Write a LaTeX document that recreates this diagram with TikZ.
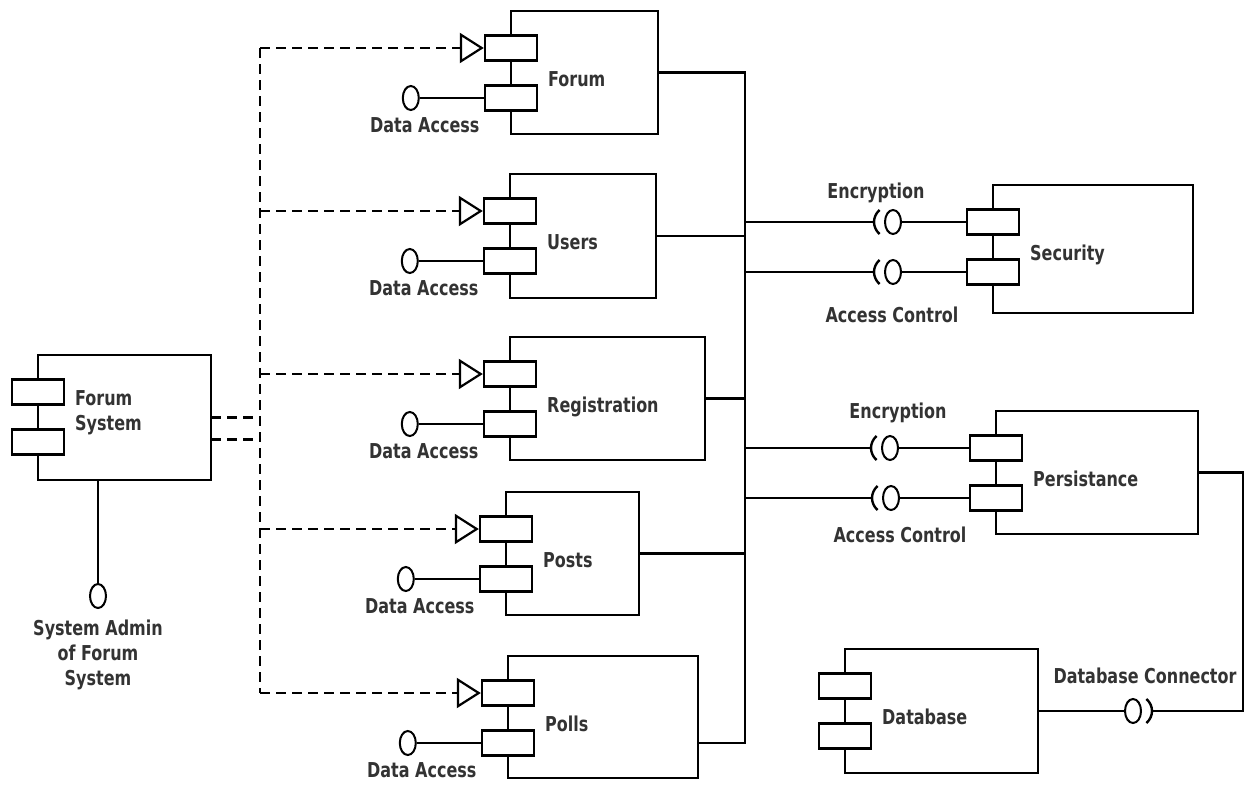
\documentclass[tikz,border=0pt]{standalone}
\usepackage{fontspec}
\setmainfont{DejaVu Sans}
\newfontfamily\lblfont{DejaVu Sans}[FakeStretch=0.78]
\usetikzlibrary{shapes.geometric,positioning,arrows.meta}
\tikzset{comp/.style={draw,line width=2.4pt,rectangle,anchor=north west,inner sep=0pt,outer sep=0pt},
port/.style={draw,line width=2.4pt,fill=white,rectangle,minimum width=52pt,minimum height=25pt,inner sep=0pt},
ball/.style={draw,line width=2pt,ellipse,fill=white,minimum width=16pt,minimum height=24pt,inner sep=0pt},
lbl/.style={font=\lblfont\bfseries\fontsize{20.5}{25}\selectfont,text=black!80,inner sep=0pt},
link/.style={line width=2.4pt},
dashline/.style={line width=2.4pt,dash pattern=on 10pt off 6pt},
dep/.style={dashline,-{Triangle[open,length=24pt,width=30pt,line width=2.2pt]}}}
\newcommand{\component}[7][75]{% [baseline] name, x1, y1, x2, y2, text
\node[comp,minimum width={(#5-#3)*1pt},minimum height={(#6-#4)*1pt}] (#2) at (#3,#4) {};
\node[port] (#2-a) at ([yshift=-37pt]#2.north west) {};
\node[port] (#2-b) at ([yshift=-87pt]#2.north west) {};
\node[lbl,anchor=base west,align=left] (#2-txt) at ([xshift=37pt,yshift=-#1pt]#2.north west) {#7};
}
\newcommand{\dataaccess}[1]{%
\node[ball,left=64pt of #1-b] (#1-da) {};
\draw[link] (#1-da) -- (#1-b);
\node[lbl,below=6pt of #1-da,xshift=14pt] (#1-dal) {Data Access};
}
\newcommand{\socket}[3]{% name, position, facing
\node[ball] (#1) at (#2) {};
\coordinate (#1-s) at ([shift={(#3:19pt and 17pt)}]#1.center);
\draw[link] ([shift={(#3-45:19pt and 17pt)}]#1.center) arc[start angle=#3-45,end angle=#3+45,x radius=19pt,y radius=17pt];
}

\begin{document}
\begin{tikzpicture}[x=1pt,y=-1pt]
    \useasboundingbox (0,0) rectangle (1247,787);
    % components
    \component{sys}{38}{355}{211}{480}{Forum\\System}
    \component{forum}{511}{11}{658}{134}{Forum}
    \component{users}{510}{174}{656}{298}{Users}
    \component{reg}{510}{337}{705}{460}{Registration}
    \component{posts}{506}{492}{639}{615}{Posts}
    \component{polls}{508}{656}{698}{778}{Polls}
    \component{sec}{993}{185}{1193}{313}{Security}
    \component{pers}{996}{411}{1198}{534}{Persistance}
    \component{db}{845}{649}{1038}{773}{Database}
    % provided interfaces
    \dataaccess{forum}
    \dataaccess{users}
    \dataaccess{reg}
    \dataaccess{posts}
    \dataaccess{polls}
    \node[ball] (admin) at (98,596) {};
    \draw[link] (admin |- sys.south) -- (admin);
    \node[lbl,below=11pt of admin,align=center] (admin-txt) {System Admin\\of Forum\\System};
    % dependencies
    \coordinate (dbus) at (260,0);
    \draw[dashline] (sys.east) -- (sys.east -| dbus);
    \draw[dashline] ([yshift=-22pt]sys.east) -- ++(44,0);
    \draw[dashline] (forum-a -| dbus) -- (polls-a -| dbus);
    \draw[dep] (forum-a -| dbus) -- (forum-a);
    \draw[dep] (users-a -| dbus) -- (users-a);
    \draw[dep] (reg-a -| dbus) -- (reg-a);
    \draw[dep] (posts-a -| dbus) -- (posts-a);
    \draw[dep] (polls-a -| dbus) -- (polls-a);
    % bus
    \coordinate (bus) at (745,0);
    \draw[link] (forum.east) -- (forum.east -| bus) -- (polls-b -| bus) -- (polls-b -| polls.east);
    \draw[link] (users.east) -- (users.east -| bus);
    \draw[link] (reg.east) -- (reg.east -| bus);
    \draw[link] (posts.east) -- (posts.east -| bus);
    % required interfaces
    \socket{sec-enc}{sec-a -| 893,0}{180}
    \socket{sec-ac}{sec-b -| 893,0}{180}
    \socket{pers-enc}{pers-a -| 890,0}{180}
    \socket{pers-ac}{pers-b -| 891,0}{180}
    \socket{dbc}{db.east -| 1133,0}{0}
    \draw[link] (sec-a -| bus) -- (sec-enc-s);
    \draw[link] (sec-enc) -- (sec-a);
    \draw[link] (sec-b -| bus) -- (sec-ac-s);
    \draw[link] (sec-ac) -- (sec-b);
    \draw[link] (pers-a -| bus) -- (pers-enc-s);
    \draw[link] (pers-enc) -- (pers-a);
    \draw[link] (pers-b -| bus) -- (pers-ac-s);
    \draw[link] (pers-ac) -- (pers-b);
    \coordinate (pbend) at (1243,0);
    \draw[link] (db.east) -- (dbc);
    \draw[link] (pers.east) -| (dbc-s -| pbend) -- (dbc-s);
    \node[lbl] (sec-enc-txt) at (876,193) {Encryption};
    \node[lbl] (sec-ac-txt) at (892,315) {Access Control};
    \node[lbl] (pers-enc-txt) at (898,413) {Encryption};
    \node[lbl] (pers-ac-txt) at (900,535) {Access Control};
    \node[lbl] (dbc-txt) at (1145,676) {Database Connector};
\end{tikzpicture}
\end{document}
